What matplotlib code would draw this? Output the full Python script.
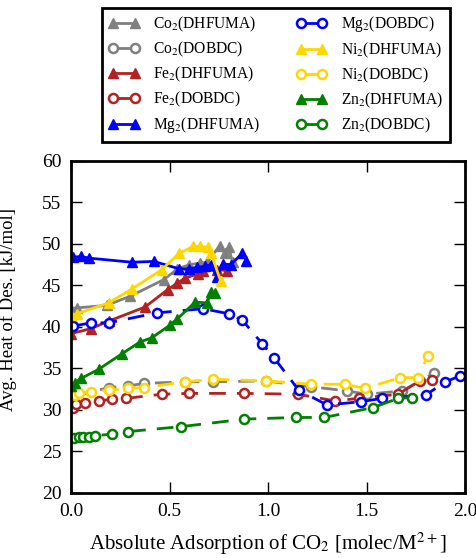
import matplotlib
matplotlib.use("Agg")
import matplotlib.pyplot as plt

plt.rcParams['font.family'] = ['Liberation Serif', 'DejaVu Serif']
plt.rcParams['mathtext.fontset'] = 'stix'

# DHFUMA series (solid line, filled triangles)
co_dhf_x = [0.00, 0.03, 0.18, 0.30, 0.47, 0.54, 0.60, 0.655, 0.69, 0.755, 0.78, 0.80, 0.82]
co_dhf_y = [42.2, 42.3, 42.6, 43.7, 45.7, 47.0, 47.5, 47.7, 47.8, 49.8, 48.9, 49.6, 47.8]
fe_dhf_x = [0.00, 0.10, 0.19, 0.375, 0.49, 0.54, 0.58, 0.645, 0.67, 0.74, 0.79]
fe_dhf_y = [39.2, 39.8, 40.7, 42.4, 44.5, 45.3, 45.9, 46.4, 46.7, 46.9, 46.8]
mg_dhf_x = [0.01, 0.05, 0.09, 0.31, 0.42, 0.55, 0.60, 0.64, 0.68, 0.71, 0.74, 0.77, 0.81, 0.87, 0.89]
mg_dhf_y = [48.4, 48.5, 48.3, 47.8, 47.9, 47.0, 47.0, 47.2, 47.3, 47.5, 46.0, 47.6, 47.5, 48.9, 48.0]
ni_dhf_x = [0.00, 0.03, 0.19, 0.31, 0.46, 0.55, 0.62, 0.655, 0.695, 0.71, 0.76]
ni_dhf_y = [41.4, 41.6, 42.9, 44.6, 46.9, 48.9, 49.7, 49.7, 49.6, 48.9, 45.5]
zn_dhf_x = [0.00, 0.02, 0.05, 0.14, 0.26, 0.35, 0.41, 0.50, 0.54, 0.63, 0.69, 0.71, 0.73]
zn_dhf_y = [32.9, 33.3, 33.8, 34.9, 36.8, 38.2, 38.7, 40.2, 41.0, 43.0, 42.9, 44.2, 44.1]

# DOBDC series (dashed line, open circles)
co_dob_x = [0.01, 0.19, 0.29, 0.37, 0.58, 0.72, 0.99, 1.22, 1.40, 1.50, 1.68, 1.84]
co_dob_y = [31.6, 32.7, 32.9, 33.2, 33.4, 33.4, 33.5, 32.8, 32.3, 31.9, 32.3, 34.4]
fe_dob_x = [0.01, 0.025, 0.07, 0.14, 0.21, 0.28, 0.46, 0.60, 0.88, 1.15, 1.34, 1.46, 1.66, 1.77, 1.83]
fe_dob_y = [30.2, 30.7, 30.9, 31.1, 31.3, 31.4, 31.9, 32.0, 32.0, 31.9, 31.1, 31.4, 31.9, 33.5, 33.6]
mg_dob_x = [0.01, 0.10, 0.19, 0.435, 0.67, 0.80, 0.87, 0.97, 1.03, 1.155, 1.30, 1.47, 1.58, 1.80, 1.90, 1.975]
mg_dob_y = [40.1, 40.5, 40.5, 41.7, 42.2, 41.6, 40.8, 38.0, 36.3, 32.4, 30.6, 31.0, 31.4, 31.8, 33.4, 34.1]
ni_dob_x = [0.02, 0.04, 0.10, 0.19, 0.29, 0.37, 0.58, 0.72, 0.99, 1.22, 1.39, 1.49, 1.67, 1.76, 1.81]
ni_dob_y = [31.8, 32.0, 32.2, 32.4, 32.6, 32.7, 33.4, 33.7, 33.5, 33.1, 33.1, 32.6, 33.9, 33.9, 36.5]
zn_dob_x = [0.015, 0.04, 0.06, 0.09, 0.12, 0.21, 0.29, 0.56, 0.88, 1.14, 1.285, 1.535, 1.66, 1.73]
zn_dob_y = [26.6, 26.7, 26.75, 26.8, 26.9, 27.1, 27.4, 28.0, 28.9, 29.1, 29.1, 30.3, 31.4, 31.5]

series = [
    ("Co$_2$(DHFUMA)", co_dhf_x, co_dhf_y, "gray", "dhf"),
    ("Co$_2$(DOBDC)", co_dob_x, co_dob_y, "gray", "dob"),
    ("Fe$_2$(DHFUMA)", fe_dhf_x, fe_dhf_y, "firebrick", "dhf"),
    ("Fe$_2$(DOBDC)", fe_dob_x, fe_dob_y, "firebrick", "dob"),
    ("Mg$_2$(DHFUMA)", mg_dhf_x, mg_dhf_y, "blue", "dhf"),
    ("Mg$_2$(DOBDC)", mg_dob_x, mg_dob_y, "blue", "dob"),
    ("Ni$_2$(DHFUMA)", ni_dhf_x, ni_dhf_y, "gold", "dhf"),
    ("Ni$_2$(DOBDC)", ni_dob_x, ni_dob_y, "gold", "dob"),
    ("Zn$_2$(DHFUMA)", zn_dhf_x, zn_dhf_y, "green", "dhf"),
    ("Zn$_2$(DOBDC)", zn_dob_x, zn_dob_y, "green", "dob"),
]

fig = plt.figure(figsize=(4.77, 5.58), dpi=100)
ax = fig.add_axes([0.149, 0.1165, 0.826, 0.595])

for label, x, y, c, kind in series:
    if kind == "dhf":
        ax.plot(x, y, '-', marker='^', color=c, mec=c, mfc=c, ms=7, lw=2, label=label)
    else:
        ax.plot(x, y, '--', marker='o', color=c, mec=c, mfc='white', ms=6.5, mew=1.8,
                lw=2, dashes=(6, 4), label=label)

ax.set_xlim(0, 2.0)
ax.set_ylim(20, 60)
ax.set_xticks([0.0, 0.5, 1.0, 1.5, 2.0])
ax.set_yticks(range(20, 61, 5))
ax.tick_params(direction='in', length=8, width=1, top=True, right=True, labelsize=14, pad=7)
for s in ax.spines.values():
    s.set_linewidth(2)
ax.set_xlabel("Absolute Adsorption of CO$_2$ [molec/M$^{2+}$]", fontsize=15, labelpad=8)
ax.set_ylabel("Avg. Heat of Des. [kJ/mol]", fontsize=13.5)
ax.yaxis.set_label_coords(-0.136, 0.554)

leg = ax.legend(loc='lower center', bbox_to_anchor=(0.52, 1.035), ncol=2, fontsize=11.2,
                numpoints=2, handlelength=2.0, handletextpad=0.9, columnspacing=2.3,
                fancybox=False, framealpha=1, edgecolor='black', borderpad=0.4,
                labelspacing=0.38)
leg.get_frame().set_linewidth(2)

fig.savefig("out.png", dpi=100)
